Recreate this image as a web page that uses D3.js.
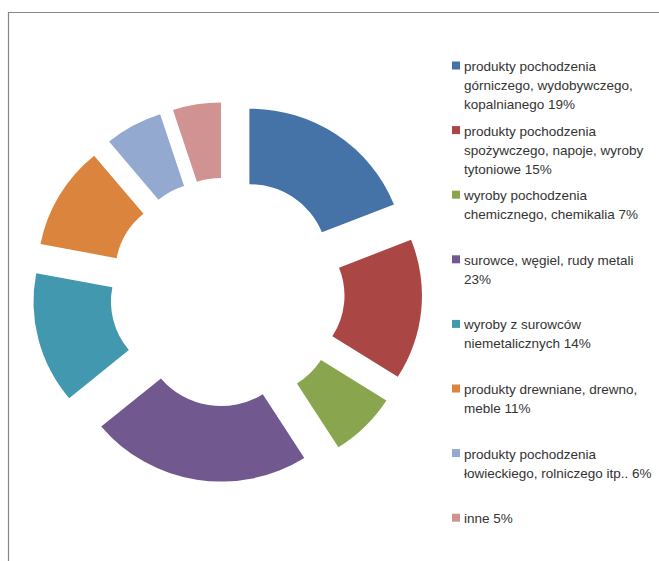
<!DOCTYPE html>
<html>
<head>
<meta charset="utf-8">
<script src="https://cdn.jsdelivr.net/npm/d3@7"></script>
<style>
  html, body { margin: 0; padding: 0; background: #fff; }
  svg { display: block; }
  text { font-family: "Liberation Sans", Arial, sans-serif; fill: #333; }
</style>
</head>
<body>
<script>
// ---- data ----
const categories = [
  "produkty pochodzenia górniczego, wydobywczego, kopalnianego",
  "produkty pochodzenia spożywczego, napoje, wyroby tytoniowe",
  "wyroby pochodzenia chemicznego, chemikalia",
  "surowce, węgiel, rudy metali",
  "wyroby z surowców niemetalicznych",
  "produkty drewniane, drewno, meble",
  "produkty pochodzenia łowieckiego, rolniczego itp..",
  "inne"
];
const values = [19, 15, 7, 23, 14, 11, 6, 5];
const legendLines = [
  ["produkty pochodzenia", "górniczego, wydobywczego,", "kopalnianego 19%"],
  ["produkty pochodzenia", "spożywczego, napoje, wyroby", "tytoniowe 15%"],
  ["wyroby pochodzenia", "chemicznego, chemikalia 7%"],
  ["surowce, węgiel, rudy metali", "23%"],
  ["wyroby z surowców", "niemetalicznych 14%"],
  ["produkty drewniane, drewno,", "meble 11%"],
  ["produkty pochodzenia", "łowieckiego, rolniczego itp.. 6%"],
  ["inne 5%"]
];
const colors = ["#4572A7", "#AA4643", "#89A54E", "#71588F", "#4198AF", "#DB843D", "#93A9CF", "#D19392"];

// ---- layout ----
const W = 659, H = 561;
const cx = 227.2, cy = 292, R = 151.5, r = 76, explode = 38.5, sx = 1.026;

const svg = d3.select("body").append("svg").attr("width", W).attr("height", H);

// frame
svg.append("path")
  .attr("d", `M8.5,${H + 2} L8.5,12.5 L${W + 2},12.5`)
  .attr("fill", "none").attr("stroke", "#868686").attr("stroke-width", 1.2);

const pie = d3.pie().sort(null).value(d => d)(values);
const arc = d3.arc().innerRadius(r).outerRadius(R);

const g = svg.append("g").attr("transform", `translate(${cx},${cy}) scale(${sx},1)`);
g.selectAll("path.slice").data(pie).join("path")
  .attr("class", "slice")
  .attr("d", arc)
  .attr("fill", (d, i) => colors[i])
  .attr("transform", d => {
    const a = (d.startAngle + d.endAngle) / 2;
    return `translate(${explode * Math.sin(a)},${-explode * Math.cos(a)})`;
  });

// legend
const legX = 452, legY0 = 66, legStep = 64.6, lineH = 19;
const leg = svg.append("g");
legendLines.forEach((lines, i) => {
  const y = legY0 + i * legStep;
  leg.append("rect").attr("x", legX).attr("y", y - 4.5).attr("width", 8).attr("height", 8)
    .attr("fill", colors[i]);
  const t = leg.append("text").attr("x", legX + 12).attr("y", y)
    .attr("dominant-baseline", "central").attr("font-size", 13.5);
  lines.forEach((ln, j) => {
    t.append("tspan").attr("x", legX + 12).attr("y", y + j * lineH).text(ln);
  });
});
</script>
</body>
</html>
